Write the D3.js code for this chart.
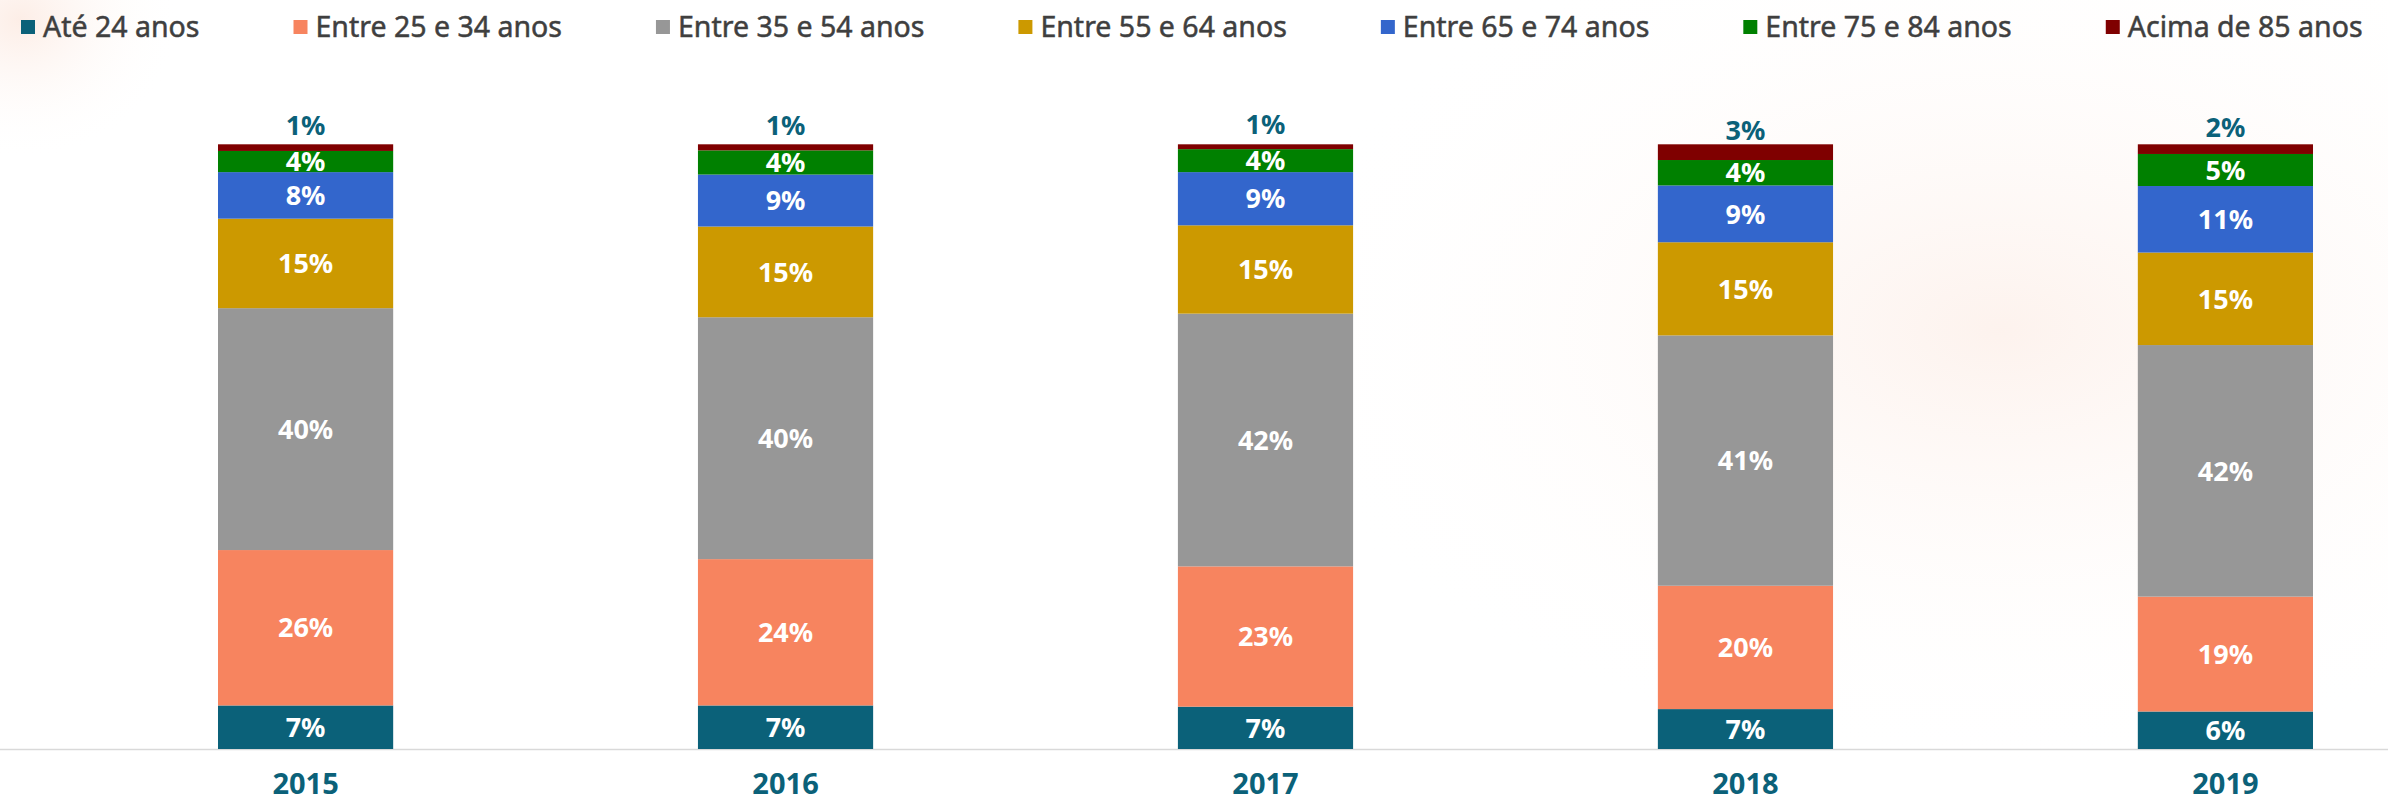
<!DOCTYPE html>
<html>
<head>
<meta charset="utf-8">
<script src="https://cdn.jsdelivr.net/npm/d3@7"></script>
<style>
  html, body { margin: 0; padding: 0; background: #ffffff; }
  svg { display: block; }
</style>
</head>
<body>
<svg id="chart" width="2388" height="803"></svg>
<script>
// ---- data ----
const years = ["2015", "2016", "2017", "2018", "2019"];
const categories = ["Até 24 anos", "Entre 25 e 34 anos", "Entre 35 e 54 anos", "Entre 55 e 64 anos", "Entre 65 e 74 anos", "Entre 75 e 84 anos", "Acima de 85 anos"];
const ate24   = [7.2, 7.2, 7.0, 6.6, 6.2];
const e25a34  = [25.7, 24.2, 23.2, 20.4, 19.0];
const e35a54  = [40.0, 40.0, 41.8, 41.4, 41.6];
const e55a64  = [14.8, 15.0, 14.6, 15.4, 15.3];
const e65a74  = [7.7, 8.6, 8.8, 9.4, 11.0];
const e75a84  = [3.5, 4.0, 3.8, 4.2, 5.3];
const acima85 = [1.1, 1.0, 0.8, 2.6, 1.6];
const seriesValues = [ate24, e25a34, e35a54, e55a64, e65a74, e75a84, acima85];
const colors = ["#0b6179", "#f7845f", "#979797", "#cc9900", "#3366cc", "#008000", "#7f0000"];

const rows = years.map((y, i) => {
  const r = { year: y };
  categories.forEach((c, k) => { r[c] = seriesValues[k][i]; });
  return r;
});

const W = 2388, H = 803;
const svg = d3.select("#chart");

// faint background tint (watermark-like)
const defs = svg.append("defs");
const g1 = defs.append("radialGradient").attr("id", "bg1").attr("cx", "0.5").attr("cy", "0.5").attr("r", "0.5");
g1.append("stop").attr("offset", "0%").attr("stop-color", "#fbe6dc").attr("stop-opacity", 0.5);
g1.append("stop").attr("offset", "100%").attr("stop-color", "#ffffff").attr("stop-opacity", 0);
const g2 = defs.append("radialGradient").attr("id", "bg2").attr("cx", "0.5").attr("cy", "0.5").attr("r", "0.5");
g2.append("stop").attr("offset", "0%").attr("stop-color", "#fbe2d6").attr("stop-opacity", 0.6);
g2.append("stop").attr("offset", "100%").attr("stop-color", "#ffffff").attr("stop-opacity", 0);
svg.append("rect").attr("width", W).attr("height", H).attr("fill", "#ffffff");
svg.append("ellipse").attr("cx", 2000).attr("cy", 330).attr("rx", 750).attr("ry", 440).attr("fill", "url(#bg1)");
svg.append("ellipse").attr("cx", 20).attr("cy", 20).attr("rx", 160).attr("ry", 140).attr("fill", "url(#bg2)");

// scales
const x = d3.scaleBand().domain(years).range([170, 2361]).paddingInner(0.635).paddingOuter(0.1);
const y = d3.scaleLinear().domain([0, 100]).range([749, 144.3]);
const color = d3.scaleOrdinal().domain(categories).range(colors);

const stacked = d3.stack().keys(categories)(rows);

// axis baseline
svg.append("line").attr("x1", 0).attr("x2", W).attr("y1", y(0) + 0.5).attr("y2", y(0) + 0.5)
  .attr("stroke", "#d9d9d9").attr("stroke-width", 1.5);

// bars
const layer = svg.append("g").selectAll("g").data(stacked).join("g").attr("fill", d => color(d.key));
layer.selectAll("rect").data(d => d.map(v => ({ v, key: d.key })))
  .join("rect")
  .attr("x", d => x(d.v.data.year))
  .attr("width", x.bandwidth())
  .attr("y", d => y(d.v[1]))
  .attr("height", d => y(d.v[0]) - y(d.v[1]));

// labels
const fmt = v => Math.round(v) + "%";
const lastKey = categories[categories.length - 1];
const lab = svg.append("g").attr("font-family", "'Noto Sans', 'DejaVu Sans', sans-serif")
  .attr("font-weight", "bold").attr("font-size", 27).attr("text-anchor", "middle");
stacked.forEach(s => {
  s.forEach(v => {
    const mid = (y(v[0]) + y(v[1])) / 2;
    const top = s.key === lastKey;
    lab.append("text")
      .attr("x", x(v.data.year) + x.bandwidth() / 2)
      .attr("y", top ? mid - 22 : mid)
      .attr("dy", "0.36em")
      .attr("fill", top ? "#0b6179" : "#ffffff")
      .text(fmt(v.data[s.key]));
  });
});

// x axis labels
const xAxis = d3.axisBottom(x).tickSize(0).tickPadding(0);
const ax = svg.append("g").attr("transform", `translate(0, ${y(0)})`).call(xAxis);
ax.select(".domain").remove();
ax.selectAll("text")
  .attr("y", 45)
  .attr("dy", 0)
  .attr("font-family", "'Noto Sans', 'DejaVu Sans', sans-serif")
  .attr("font-weight", "bold")
  .attr("font-size", 29)
  .attr("fill", "#0b6179");

// legend
const leg = svg.append("g").attr("font-family", "'Noto Sans', 'DejaVu Sans', sans-serif")
  .attr("font-size", 28.5).attr("fill", "#3f3f3f").attr("stroke", "#3f3f3f").attr("stroke-width", 0.5);
let lx = 21;
categories.forEach((c, i) => {
  leg.append("rect").attr("x", lx).attr("y", 20).attr("width", 14).attr("height", 14)
    .attr("fill", colors[i]).attr("stroke", "none");
  const t = leg.append("text").attr("x", lx + 22).attr("y", 37).text(c);
  const w = t.node().getComputedTextLength();
  lx = lx + 22 + w + 94;
});
</script>
</body>
</html>
